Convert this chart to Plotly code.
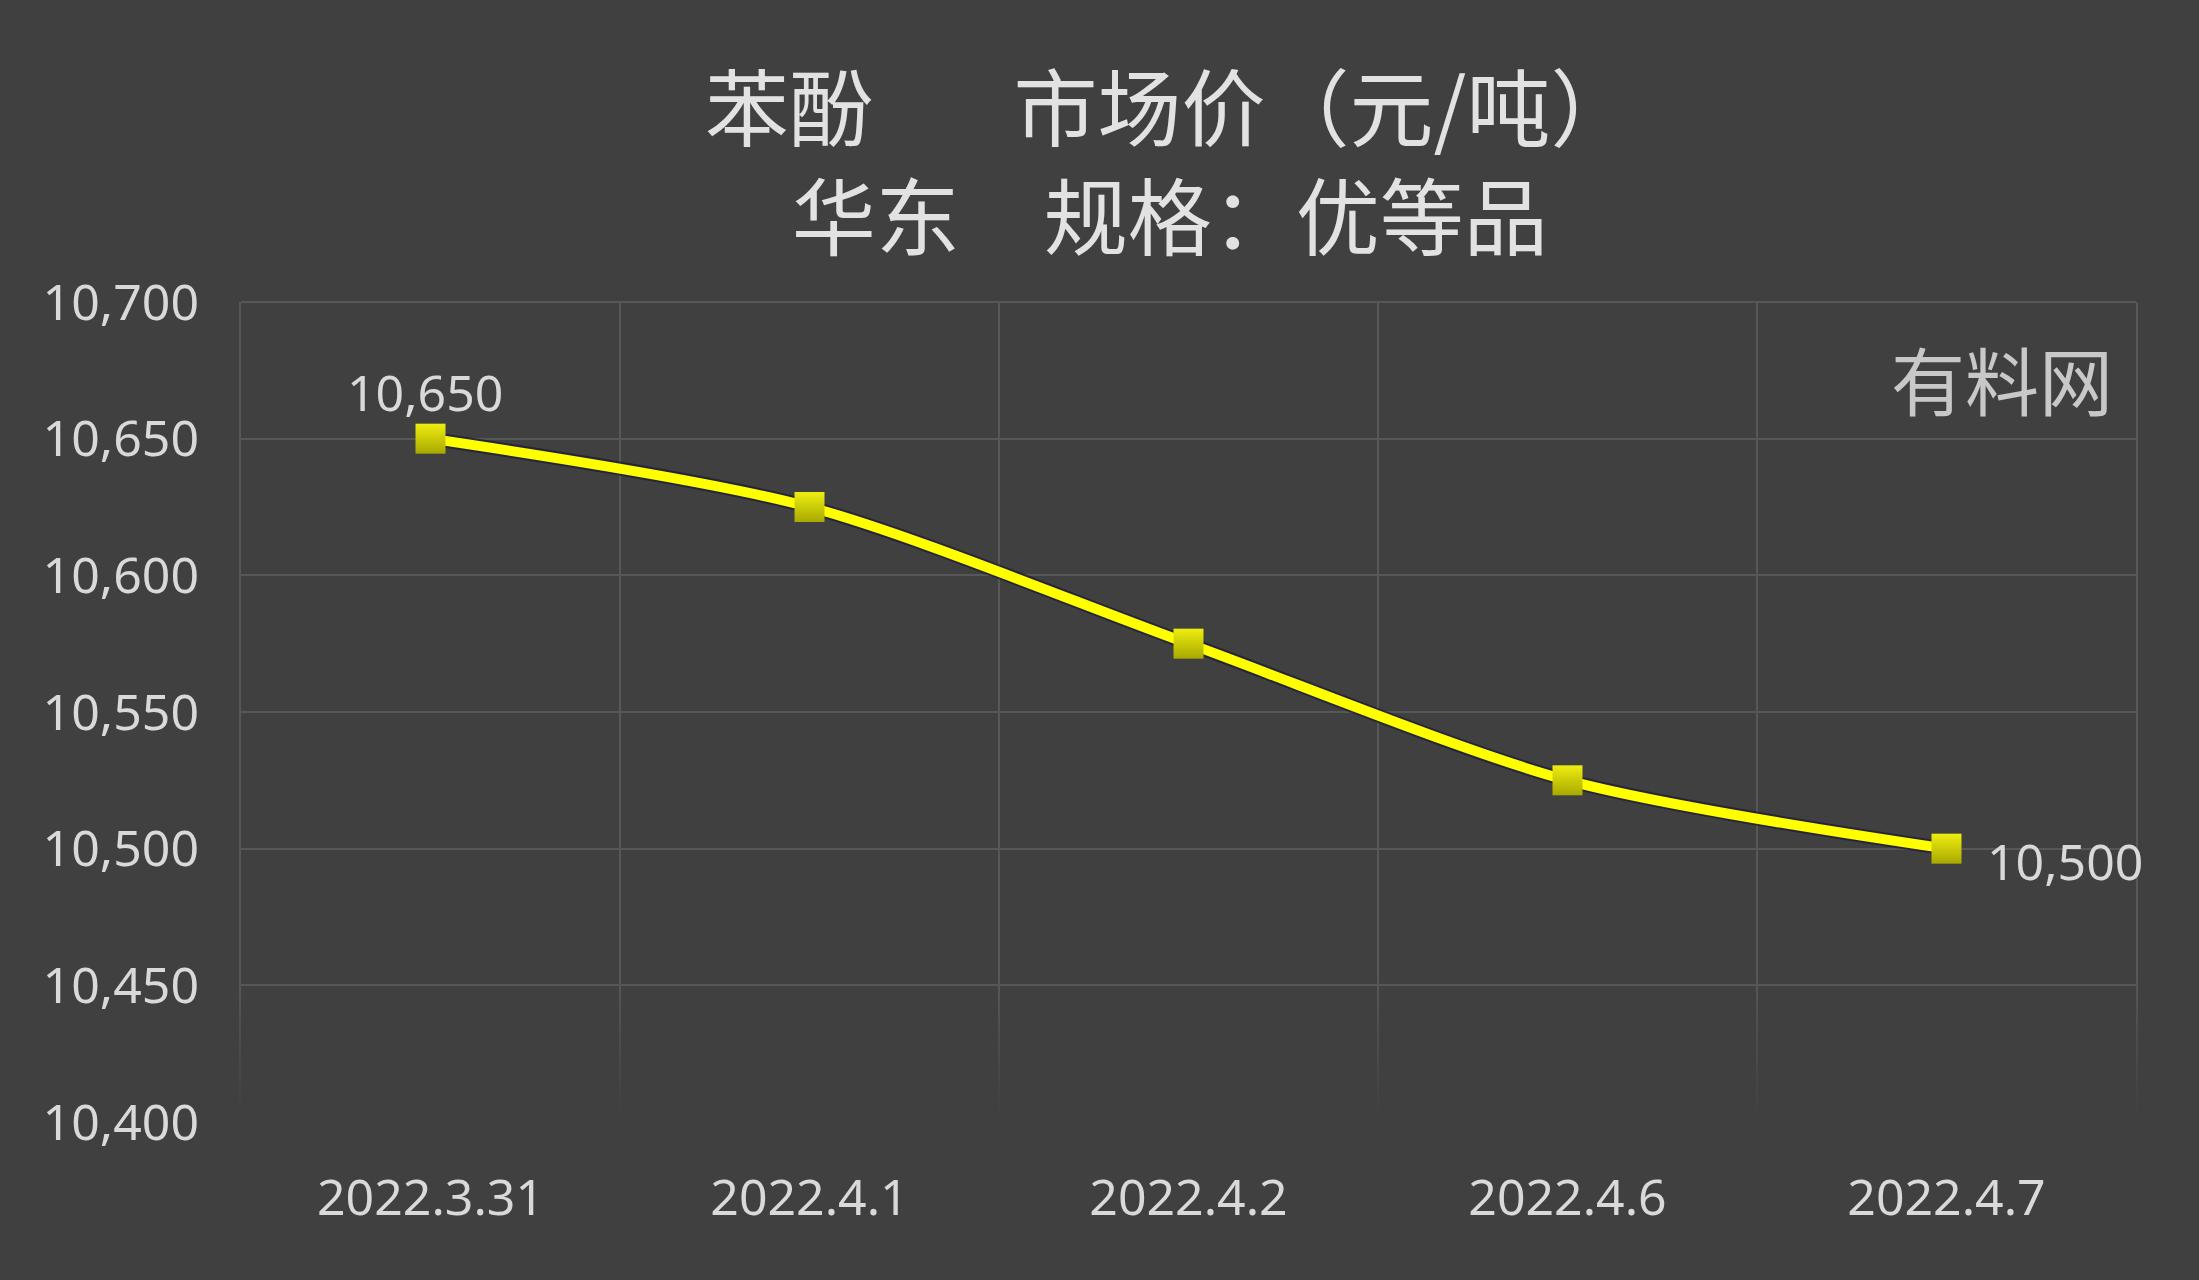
import base64
import plotly.graph_objects as go

# ---- data ----
dates = ["2022.3.31", "2022.4.1", "2022.4.2", "2022.4.6", "2022.4.7"]
prices = [10650, 10625, 10575, 10525, 10500]
y_ticks = [10400, 10450, 10500, 10550, 10600, 10650, 10700]
title_line1 = "苯酚　   市场价（元/吨）"
title_line2 = "华东　规格：优等品"
watermark = "有料网"

# ---- layout geometry (pixels) ----
W, H = 2199, 1280
L, R, T, B = 241, 2136, 302, 1122
BG = "#404040"
GRID = "#575757"
TXT = "#d9d9d9"


def px_x(px):
    return (px - L) / (R - L)


def px_y(py):
    return (B - py) / (B - T)


fig = go.Figure()

# subtle dark shadow under line
fig.add_trace(go.Scatter(
    x=dates, y=prices, mode="lines",
    line=dict(color="rgba(25,25,55,0.7)", width=14, shape="spline", smoothing=0.8),
    hoverinfo="skip", showlegend=False,
))
fig.add_trace(go.Scatter(
    x=dates, y=prices, mode="lines+markers",
    line=dict(color="#ffff00", width=10, shape="spline", smoothing=0.8),
    marker=dict(symbol="square", size=30, color="#eeee10",
                gradient=dict(type="vertical", color="#a8a800"),
                line=dict(width=0)),
    showlegend=False,
))

# data labels for first and last points
fig.add_annotation(x=dates[0], y=prices[0], text=f"{prices[0]:,}",
                   showarrow=False, yanchor="middle", xanchor="center",
                   yshift=47, xshift=-6,
                   font=dict(family="Noto Sans", size=50, color=TXT))
fig.add_annotation(x=dates[-1], y=prices[-1], text=f"{prices[-1]:,}",
                   showarrow=False, yanchor="middle", xanchor="left",
                   xshift=38, yshift=-12,
                   font=dict(family="Noto Sans", size=50, color=TXT))

# two-line title
fig.add_annotation(xref="paper", yref="paper", x=px_x(1169), y=px_y(158),
                   text=title_line1 + "<br>" + title_line2, align="center",
                   showarrow=False, xanchor="center", yanchor="middle",
                   font=dict(family="Noto Sans CJK SC", size=84, color="#e2e2e2"))

# watermark
fig.add_annotation(xref="paper", yref="paper", x=px_x(2002), y=px_y(377),
                   text=watermark, showarrow=False, xanchor="center", yanchor="middle",
                   font=dict(family="Noto Sans CJK SC", size=74, color="#c8c8c8"))

# top border of plot area
fig.add_shape(type="line", xref="paper", yref="paper", x0=0, x1=1, y0=1, y1=1,
              line=dict(color=GRID, width=2))

# fade of gridlines toward the bottom
svg = ('<svg xmlns="http://www.w3.org/2000/svg" width="10" height="100" viewBox="0 0 10 100" '
       'preserveAspectRatio="none"><defs><linearGradient id="g" x1="0" y1="0" x2="0" y2="1">'
       '<stop offset="0" stop-color="#404040" stop-opacity="0"/>'
       '<stop offset="0.85" stop-color="#404040" stop-opacity="0.95"/>'
       '<stop offset="1" stop-color="#404040" stop-opacity="1"/>'
       '</linearGradient></defs><rect width="10" height="100" fill="url(#g)"/></svg>')
src = "data:image/svg+xml;base64," + base64.b64encode(svg.encode()).decode()
fig.add_layout_image(dict(source=src, xref="paper", yref="y", x=-0.01, y=10452,
                          sizex=1.02, sizey=56, sizing="stretch",
                          xanchor="left", yanchor="top", layer="above", opacity=1))

fig.update_layout(
    width=W, height=H,
    margin=dict(l=L, r=W - R, t=T, b=H - B),
    paper_bgcolor=BG, plot_bgcolor=BG,
    showlegend=False,
)
fig.update_xaxes(
    type="category", tickson="boundaries", range=[-0.5, len(dates) - 0.5],
    showgrid=True, gridcolor=GRID, gridwidth=2, showline=False, zeroline=False,
    ticks="", ticklabelstandoff=42,
    tickfont=dict(family="Noto Sans", size=50, color=TXT),
)
fig.update_yaxes(
    range=[y_ticks[0], y_ticks[-1]], tickvals=y_ticks, tickformat=",",
    showgrid=True, gridcolor=GRID, gridwidth=2, zeroline=False,
    showline=True, mirror=True, linecolor=GRID, linewidth=2,
    ticks="outside", ticklen=30, tickcolor="rgba(0,0,0,0)",
    tickfont=dict(family="Noto Sans", size=50, color=TXT),
)

fig.write_html("out.html", config={"displayModeBar": False},
               post_script="document.body.style.margin='0';document.body.style.overflow='hidden';")
